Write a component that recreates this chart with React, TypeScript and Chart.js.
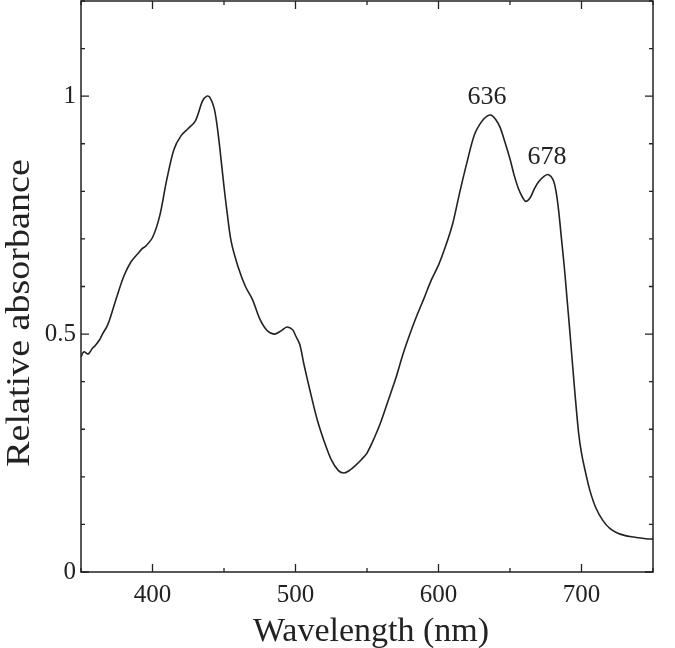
import React, { useEffect, useRef } from "react";
import { Chart, registerables } from "chart.js";

Chart.register(...registerables);

const wavelengths = [
  350, 352, 355, 358, 360, 363, 365, 368, 370, 375, 380, 385, 390, 393, 395, 400, 405, 410, 415, 420,
  425, 430, 435, 438, 440, 443, 445, 447, 450, 452, 455, 460, 465, 470, 475, 480, 485, 490, 494, 498,
  500, 503, 506, 510, 515, 520, 525, 530, 534, 538, 542, 546, 550, 555, 560, 565, 570, 575, 580, 585,
  590, 595, 600, 605, 610, 615, 620, 625, 630, 634, 637, 640, 643, 646, 650, 653, 656, 659, 661, 664,
  667, 670, 674, 677, 680, 682, 684, 686, 688, 690, 692, 695, 698, 700, 703, 706, 710, 715, 720, 725,
  730, 735, 740, 745, 750,
];

const absorbance = [
  0.452, 0.463, 0.458, 0.470, 0.476, 0.488, 0.500, 0.515, 0.530, 0.578, 0.622, 0.652, 0.670, 0.680, 0.684, 0.703, 0.748, 0.825, 0.888, 0.917,
  0.932, 0.948, 0.990, 1.0, 0.998, 0.976, 0.942, 0.893, 0.810, 0.760, 0.695, 0.640, 0.600, 0.572, 0.532, 0.508, 0.500, 0.507, 0.515, 0.509,
  0.497, 0.478, 0.435, 0.383, 0.322, 0.275, 0.236, 0.213, 0.208, 0.214, 0.224, 0.236, 0.250, 0.281, 0.318, 0.362, 0.406, 0.456, 0.500, 0.540,
  0.576, 0.614, 0.645, 0.685, 0.733, 0.800, 0.862, 0.918, 0.946, 0.958, 0.960, 0.951, 0.935, 0.908, 0.868, 0.833, 0.805, 0.786, 0.779, 0.786,
  0.805, 0.820, 0.832, 0.835, 0.825, 0.803, 0.760, 0.700, 0.640, 0.570, 0.500, 0.390, 0.292, 0.250, 0.207, 0.170, 0.135, 0.108, 0.091, 0.082,
  0.077, 0.074, 0.072, 0.070, 0.069,
];

const xLabelTicks = [400, 500, 600, 700];
const yLabelTicks = [0, 0.5, 1];
const peakLabels = [636, 678];
const xTitle = "Wavelength (nm)";
const yTitle = "Relative absorbance";

const FONT = "'Liberation Serif', 'DejaVu Serif', serif";
const INK = "#222";

const near = (a: number, b: number) => Math.abs(a - b) < 1e-6;

const framePlugin = {
  id: "frame",
  afterDraw(chart: any) {
    const { ctx, chartArea, scales } = chart;
    const xs = scales.x;
    const ys = scales.y;
    const { left, right, top, bottom } = chartArea;
    ctx.save();
    ctx.strokeStyle = INK;
    ctx.lineWidth = 1.5;
    ctx.strokeRect(left, top, right - left, bottom - top);
    ctx.lineWidth = 1.3;
    for (let v = 350; v <= 750; v += 50) {
      const px = xs.getPixelForValue(v);
      const len = v % 100 === 0 ? 8 : 4;
      ctx.beginPath();
      ctx.moveTo(px, bottom);
      ctx.lineTo(px, bottom - len);
      ctx.moveTo(px, top);
      ctx.lineTo(px, top + len);
      ctx.stroke();
    }
    for (let i = 0; i <= 12; i++) {
      const v = i / 10;
      const py = ys.getPixelForValue(v);
      const len = i % 5 === 0 ? 8 : 4;
      ctx.beginPath();
      ctx.moveTo(left, py);
      ctx.lineTo(left + len, py);
      ctx.moveTo(right, py);
      ctx.lineTo(right - len, py);
      ctx.stroke();
    }
    ctx.fillStyle = INK;
    ctx.font = `26px ${FONT}`;
    ctx.textAlign = "center";
    ctx.textBaseline = "middle";
    for (const p of peakLabels) {
      let peakY = 0;
      for (let i = 0; i < wavelengths.length; i++) {
        if (Math.abs(wavelengths[i] - p) <= 3) peakY = Math.max(peakY, absorbance[i]);
      }
      ctx.fillText(String(p), xs.getPixelForValue(p) - 3, ys.getPixelForValue(peakY) - 18);
    }
    ctx.font = `34px ${FONT}`;
    ctx.textBaseline = "alphabetic";
    ctx.fillText(xTitle, (left + right) / 2 + 4, 641);
    ctx.save();
    ctx.translate(29, 313);
    ctx.rotate(-Math.PI / 2);
    ctx.scale(1.12, 1);
    ctx.fillText(yTitle, 0, 0);
    ctx.restore();
    ctx.restore();
  },
};

export default function App() {
  const ref = useRef<HTMLCanvasElement | null>(null);
  useEffect(() => {
    if (!ref.current) return;
    const chart = new Chart(ref.current, {
      type: "line",
      data: {
        datasets: [
          {
            data: wavelengths.map((w, i) => ({ x: w, y: absorbance[i] })),
            borderColor: INK,
            borderWidth: 1.6,
            pointRadius: 0,
            tension: 0.3,
            fill: false,
          },
        ],
      },
      options: {
        animation: false,
        responsive: false,
        maintainAspectRatio: false,
        layout: { padding: { top: 1, right: 22, left: 0, bottom: 0 } },
        plugins: { legend: { display: false }, tooltip: { enabled: false } },
        scales: {
          x: {
            type: "linear",
            min: 350,
            max: 750,
            grid: { display: false, drawTicks: false },
            border: { display: false },
            ticks: {
              stepSize: 50,
              padding: 8,
              color: INK,
              font: { family: FONT, size: 25 },
              maxRotation: 0,
              autoSkip: false,
              callback: (v: any) => (xLabelTicks.some((t) => near(t, Number(v))) ? String(v) : ""),
            },
            afterFit: (s: any) => {
              s.height = 76;
              s.paddingLeft = 0;
              s.paddingRight = 0;
            },
          },
          y: {
            type: "linear",
            min: 0,
            max: 1.2,
            grid: { display: false, drawTicks: false },
            border: { display: false },
            ticks: {
              stepSize: 0.1,
              padding: 5,
              color: INK,
              font: { family: FONT, size: 25 },
              autoSkip: false,
              callback: (v: any) => {
                const t = yLabelTicks.find((t) => near(t, Number(v)));
                return t === undefined ? "" : String(t);
              },
            },
            afterFit: (s: any) => {
              s.width = 81;
              s.paddingTop = 0;
              s.paddingBottom = 0;
            },
          },
        },
      },
      plugins: [framePlugin],
    });
    return () => chart.destroy();
  }, []);
  return (
    <div style={{ position: "fixed", left: 0, top: 0, width: 675, height: 648, background: "#fff" }}>
      <canvas ref={ref} width={675} height={648} style={{ display: "block" }} />
    </div>
  );
}
